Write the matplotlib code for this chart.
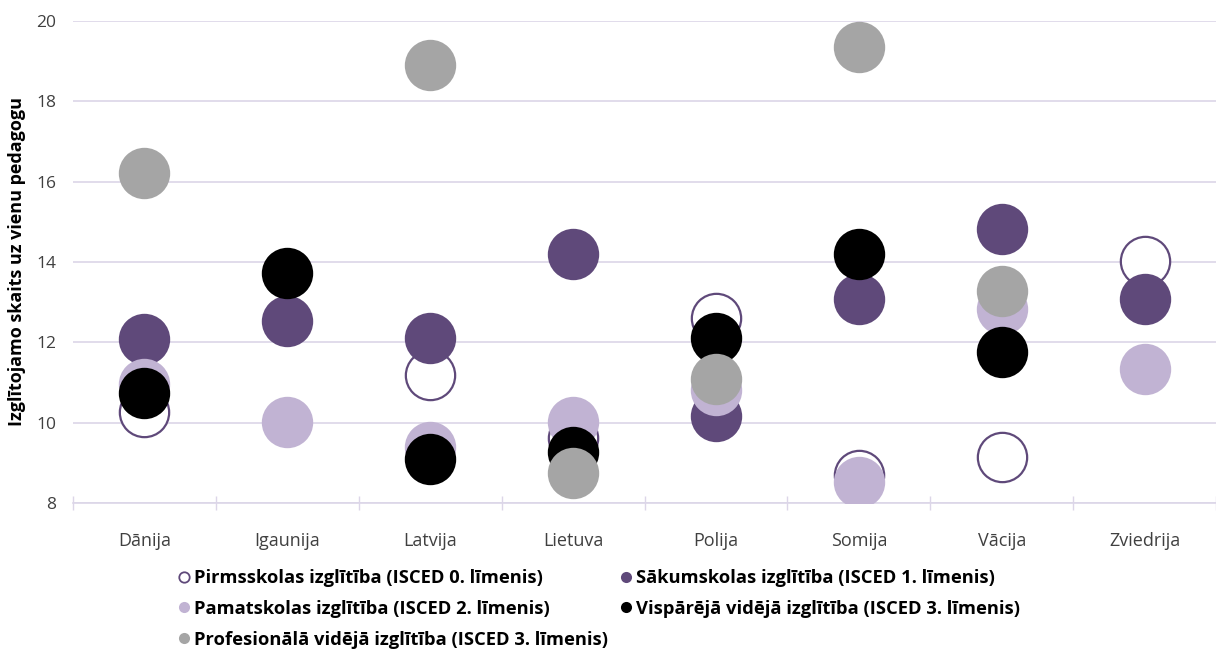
import matplotlib
matplotlib.use("Agg")
import matplotlib.pyplot as plt
from matplotlib.lines import Line2D
import numpy as np

countries = ["Dānija", "Igaunija", "Latvija", "Lietuva", "Polija", "Somija", "Vācija", "Zviedrija"]
series_names = [
    "Pirmsskolas izglītība (ISCED 0. līmenis)",
    "Sākumskolas izglītība (ISCED 1. līmenis)",
    "Pamatskolas izglītība (ISCED 2. līmenis)",
    "Vispārējā vidējā izglītība (ISCED 3. līmenis)",
    "Profesionālā vidējā izglītība (ISCED 3. līmenis)",
]
nan = np.nan
pirmsskola = [10.26, nan, 11.2, 9.62, 12.6, 8.7, 9.14, 14.02]
sakumskola = [12.08, 12.54, 12.11, 14.19, 10.17, 13.09, 14.83, 13.08]
pamatskola = [10.97, 10.03, 9.4, 10.02, 10.81, 8.53, 12.83, 11.34]
visparejaa = [10.74, 13.73, 9.09, 9.28, 12.11, 14.19, 11.75, nan]
profesionala = [16.21, nan, 18.9, 8.76, 11.08, 19.34, 13.28, nan]

plt.rcParams['font.family'] = ['Open Sans', 'DejaVu Sans']

fig = plt.figure(figsize=(12.16, 6.52), dpi=100)
W, H = 1216, 652
ax = fig.add_axes([73 / W, 1 - 503.3 / H, (W - 73) / W, (503.3 - 20.7) / H])

x = np.arange(len(countries))
msize = 37
grid_c = "#DCD6E8"
dark = "#5F497A"
light = "#C1B3D3"
gray = "#A5A5A5"

ax.plot(x, pirmsskola, 'o', ls='none', ms=msize - 1.5, mfc='white', mec=dark, mew=1.6, zorder=3)
ax.plot(x, sakumskola, 'o', ls='none', ms=msize, mfc=dark, mec='none', zorder=4)
ax.plot(x, pamatskola, 'o', ls='none', ms=msize, mfc=light, mec='none', zorder=5)
ax.plot(x, visparejaa, 'o', ls='none', ms=msize, mfc='black', mec='none', zorder=6)
ax.plot(x, profesionala, 'o', ls='none', ms=msize, mfc=gray, mec='none', zorder=7)

ax.set_ylim(8, 20)
ax.set_yticks([8, 10, 12, 14, 16, 18, 20])
ax.set_xlim(-0.5, -0.5 + (W - 73) / 144.2)
ax.set_xticks(x)
ax.set_xticklabels(countries)
ax.set_xticks(np.arange(len(countries) + 1) - 0.5, minor=True)

for s in ['top', 'right', 'left']:
    ax.spines[s].set_visible(False)
ax.spines['bottom'].set_color(grid_c)
ax.spines['bottom'].set_linewidth(1.2)
ax.grid(axis='y', color=grid_c, lw=1.2, zorder=0)
ax.set_axisbelow(True)

ax.tick_params(axis='y', length=0, pad=12, labelsize=12.5, labelcolor='#404040')
ax.tick_params(axis='x', which='major', length=0, pad=21, labelsize=13, labelcolor='#404040')
ax.tick_params(axis='x', which='minor', direction='inout', length=10, width=1, color=grid_c)

ax.set_ylabel("Izglītojamo skaits uz vienu pedagogu", fontsize=13, fontweight='bold')
ax.yaxis.set_label_coords(-47 / (W - 73), 0.5)

handles = [
    Line2D([], [], marker='o', ls='none', ms=7.5, mfc='white', mec=dark, mew=1.3),
    Line2D([], [], marker='o', ls='none', ms=8, mfc=dark, mec='none'),
    Line2D([], [], marker='o', ls='none', ms=8, mfc=light, mec='none'),
    Line2D([], [], marker='o', ls='none', ms=8, mfc='black', mec='none'),
    Line2D([], [], marker='o', ls='none', ms=8, mfc=gray, mec='none'),
]
order = [0, 2, 4, 1, 3]
leg = fig.legend([handles[i] for i in order], [series_names[i] for i in order],
                 ncol=2, frameon=False, loc='upper left', bbox_to_anchor=(178 / W, 1 - 569 / H),
                 prop={'weight': 'bold', 'size': 13.2}, handlelength=0.6, handletextpad=0.25,
                 columnspacing=0.7, labelspacing=0.7, borderpad=0, borderaxespad=0)

fig.savefig("out.png", dpi=100)
